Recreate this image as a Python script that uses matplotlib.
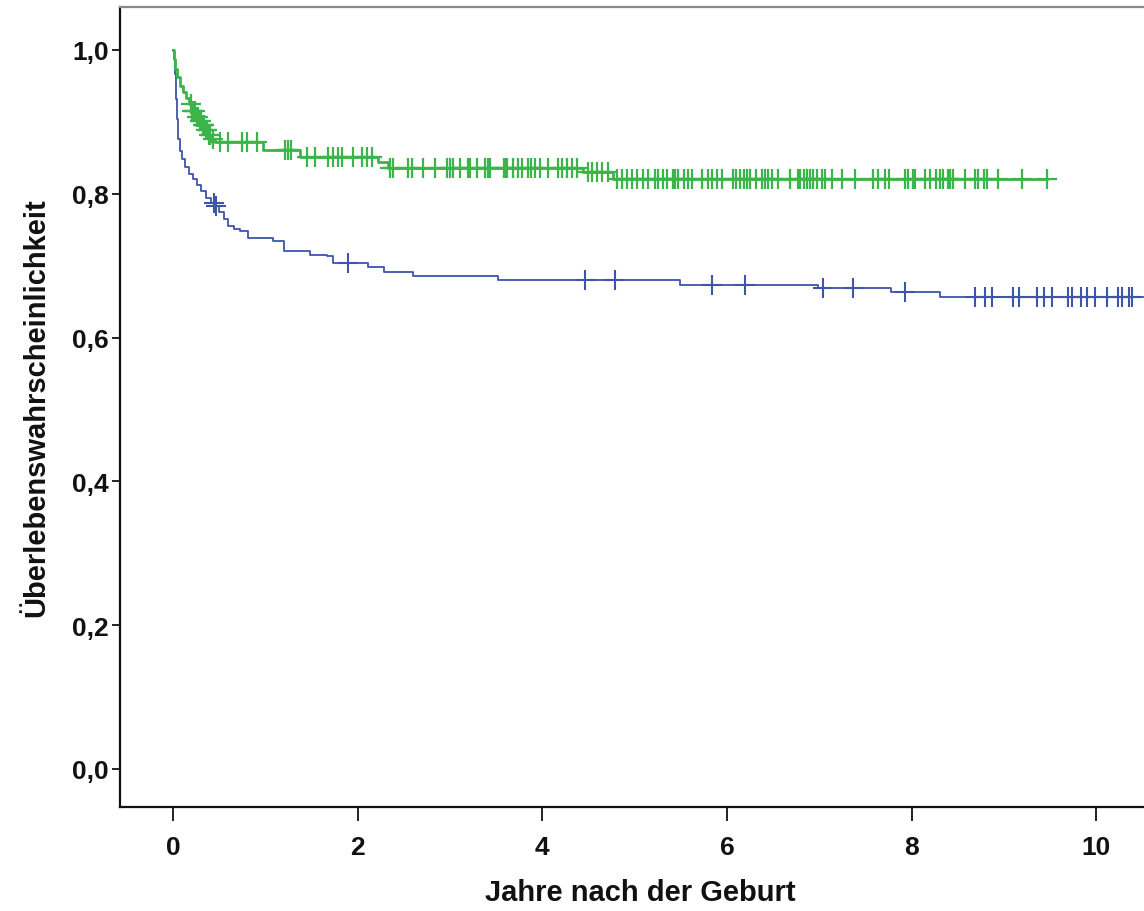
import numpy as np
import matplotlib
matplotlib.use("Agg")
import matplotlib.pyplot as plt

plt.rcParams['font.family'] = ['Liberation Sans', 'DejaVu Sans']

# Kaplan-Meier Schätzer: Ereigniszeiten (Jahre) und Überlebensanteil nach dem Schritt
blue_event_t = [0, 0.01, 0.02, 0.03, 0.04, 0.055, 0.075, 0.10, 0.13, 0.17, 0.22, 0.26,
                0.30, 0.36, 0.41, 0.45, 0.50, 0.55, 0.60, 0.66, 0.73, 0.81, 1.08, 1.20,
                1.48, 1.67, 1.73, 2.11, 2.28, 2.60, 3.52, 5.49, 6.99, 7.78, 8.31]
blue_surv = [1.0, 0.987, 0.967, 0.932, 0.904, 0.876, 0.860, 0.848, 0.837, 0.828, 0.821, 0.812,
             0.804, 0.794, 0.787, 0.783, 0.775, 0.765, 0.755, 0.751, 0.748, 0.739, 0.734, 0.720,
             0.715, 0.713, 0.704, 0.698, 0.691, 0.686, 0.6805, 0.6736, 0.6686, 0.663, 0.657]
blue_censored = [0.44, 0.47, 1.90, 4.46, 4.79, 5.84, 6.20, 7.04, 7.37, 7.93, 8.69, 8.79, 8.87,
                 9.10, 9.16, 9.36, 9.43, 9.52, 9.69, 9.74, 9.83, 9.90, 9.99, 10.12, 10.24,
                 10.28, 10.35, 10.39, 10.65]

green_event_t = [0, 0.01, 0.02, 0.04, 0.075, 0.11, 0.14, 0.17, 0.20, 0.25, 0.28, 0.31, 0.35,
                 0.38, 0.41, 0.45, 0.97, 1.38, 2.22, 2.33, 4.44, 4.77]
green_surv = [1.0, 0.987, 0.973, 0.962, 0.950, 0.942, 0.933, 0.925, 0.915, 0.907, 0.901, 0.896,
              0.889, 0.882, 0.876, 0.872, 0.861, 0.851, 0.844, 0.836, 0.831, 0.8206]
green_censored = [
    0.19, 0.21, 0.23, 0.24, 0.26, 0.27, 0.29, 0.30, 0.32, 0.33, 0.34, 0.36, 0.37, 0.39, 0.40, 0.43,
    0.51, 0.60, 0.75, 0.80, 0.91, 1.21, 1.25, 1.28, 1.45, 1.54, 1.68, 1.73, 1.79, 1.83, 1.95,
    2.05, 2.10, 2.15, 2.35, 2.38, 2.54, 2.59, 2.71, 2.84, 2.97, 3.00, 3.03, 3.11, 3.20, 3.22,
    3.29, 3.38, 3.41, 3.43, 3.58, 3.60, 3.62, 3.68, 3.74, 3.78, 3.84, 3.88, 3.92, 3.98, 4.06,
    4.17, 4.21, 4.27, 4.32, 4.38, 4.49, 4.54, 4.59, 4.65, 4.71, 4.81, 4.86, 4.92, 4.97, 5.03,
    5.09, 5.15, 5.22, 5.25, 5.31, 5.35, 5.41, 5.44, 5.47, 5.53, 5.58, 5.62, 5.73, 5.79, 5.84,
    5.89, 5.95, 6.07, 6.10, 6.14, 6.18, 6.22, 6.25, 6.31, 6.38, 6.41, 6.44, 6.49, 6.55, 6.68,
    6.77, 6.79, 6.83, 6.87, 6.90, 6.93, 6.98, 7.03, 7.06, 7.14, 7.25, 7.39, 7.58, 7.64, 7.71,
    7.75, 7.93, 7.96, 8.01, 8.04, 8.15, 8.20, 8.26, 8.31, 8.34, 8.39, 8.42, 8.45, 8.58, 8.69,
    8.72, 8.78, 8.82, 8.93, 9.20, 9.47]

y_ticks = [0.0, 0.2, 0.4, 0.6, 0.8, 1.0]
x_ticks = [0, 2, 4, 6, 8, 10]

BLUE = '#3e55a9'
GREEN = '#3bb54a'


def km_curve(ax, event_t, surv, censored, color, lw, mew):
    event_t = np.asarray(event_t)
    surv = np.asarray(surv)
    censored = np.asarray(censored)
    t_end = max(event_t[-1], censored.max())
    xs = np.append(event_t, t_end)
    ys = np.append(surv, surv[-1])
    ax.step(xs, ys, where='post', color=color, lw=lw, zorder=3)
    idx = np.searchsorted(event_t, censored, side='right') - 1
    ax.plot(censored, surv[idx], linestyle='none', marker='+', markersize=14,
            markeredgewidth=mew, color=color, zorder=4)


fig = plt.figure(figsize=(11.44, 9.12), dpi=100)
ax = fig.add_axes([120 / 1144, 104 / 912, 1040 / 1144, 800 / 912])

km_curve(ax, blue_event_t, blue_surv, blue_censored, BLUE, 1.3, 1.5)
km_curve(ax, green_event_t, green_surv, green_censored, GREEN, 2.0, 1.6)

ax.set_xlim(-0.574, 10.69)
ax.set_ylim(-0.0529, 1.0598)
ax.set_xticks(x_ticks)
ax.set_xticklabels([str(v) for v in x_ticks])
ax.set_yticks(y_ticks)
ax.set_yticklabels([f"{v:.1f}".replace('.', ',') for v in y_ticks])

for side in ('left', 'bottom'):
    ax.spines[side].set_linewidth(1.6)
    ax.spines[side].set_color('#111111')
ax.spines['top'].set_linewidth(1.6)
ax.spines['top'].set_color('#888888')
ax.spines['right'].set_visible(False)

ax.tick_params(axis='x', direction='out', length=10, width=1.3, pad=10,
               labelsize=19, colors='#111111')
ax.tick_params(axis='y', direction='out', length=6, width=1.3, pad=2,
               labelsize=19, colors='#111111')
for lab in ax.get_xticklabels() + ax.get_yticklabels():
    lab.set_fontweight('bold')

ax.set_xlabel('Jahre nach der Geburt', fontsize=21, fontweight='bold',
              color='#111111', labelpad=14)
ax.set_ylabel('Überlebenswahrscheinlichkeit', fontsize=21, fontweight='bold',
              color='#111111', labelpad=16)

fig.savefig('out.png', dpi=100)
